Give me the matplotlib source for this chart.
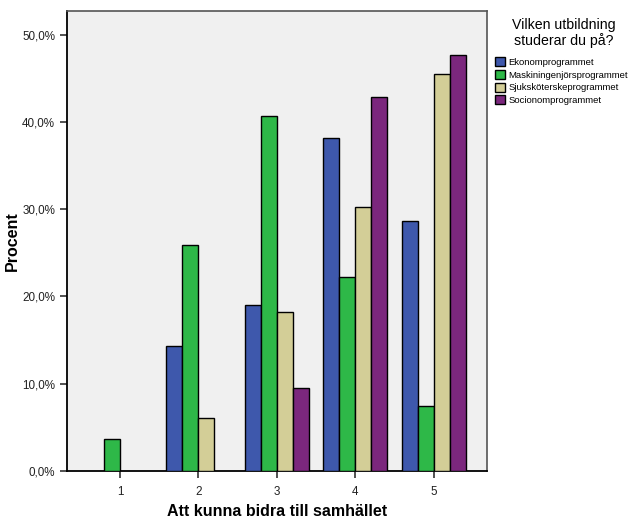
import numpy as np
import matplotlib.pyplot as plt
from matplotlib.ticker import FuncFormatter

plt.rcParams['font.family'] = ['Liberation Sans', 'DejaVu Sans']

# svarsalternativ 1-5
categories = ["1", "2", "3", "4", "5"]
program = ["Ekonomprogrammet", "Maskiningenjörsprogrammet",
           "Sjuksköterskeprogrammet", "Socionomprogrammet"]

ekonom = [0.0, 14.3, 19.0, 38.1, 28.6]
maskin = [3.7, 25.9, 40.7, 22.2, 7.4]
sjukskot = [0.0, 6.1, 18.2, 30.3, 45.5]
socionom = [0.0, 0.0, 9.5, 42.9, 47.6]

series = [ekonom, maskin, sjukskot, socionom]
colors = ["#3e58ac", "#2eb848", "#d3ce97", "#7b277d"]

fig = plt.figure(figsize=(6.35, 5.22), dpi=100)
ax = fig.add_axes([0.1055, 0.0977, 0.661, 0.8813])
ax.set_facecolor("#f0f0f0")

x = np.arange(1, len(categories) + 1)
w = 0.205
for i, (vals, col, name) in enumerate(zip(series, colors, program)):
    v = np.array(vals)
    pos = x + (i - 1.5) * w
    mask = v > 0
    ax.bar(pos[mask], v[mask], width=w, color=col, edgecolor="black",
           linewidth=1.0, label=name, zorder=3)

ax.set_xlim(0.325, 5.675)
ax.set_ylim(0, 52.7)
ax.set_xticks(x)
ax.set_xticklabels(categories)
ax.set_yticks([0, 10, 20, 30, 40, 50])
ax.yaxis.set_major_formatter(FuncFormatter(lambda v, p: f"{v:.1f}%".replace(".", ",")))
ax.tick_params(axis="both", labelsize=8.4, length=5, width=1.2, color="#333333",
               labelcolor="#222222")
ax.tick_params(axis="x", pad=6)

for s in ["left", "bottom"]:
    ax.spines[s].set_linewidth(1.3)
for s in ["top", "right"]:
    ax.spines[s].set_color("#555555")
    ax.spines[s].set_linewidth(1.2)

ax.set_ylabel("Procent", fontsize=11.5, fontweight="bold")
ax.set_xlabel("Att kunna bidra till samhället", fontsize=11.5, fontweight="bold")
ax.yaxis.set_label_coords(-0.112, 0.5)
ax.xaxis.set_label_coords(0.5, -0.071)

fig.text(0.888, 0.936, "Vilken utbildning\nstuderar du på?", ha="center",
         va="center", fontsize=10.2, linespacing=1.1)
leg = fig.legend(loc="upper left", bbox_to_anchor=(0.779, 0.89), frameon=False,
                 fontsize=6.8, handlelength=1.1, handleheight=1.1,
                 handletextpad=0.35, labelspacing=0.3, borderaxespad=0,
                 borderpad=0)

fig.savefig("out.png", dpi=100)
